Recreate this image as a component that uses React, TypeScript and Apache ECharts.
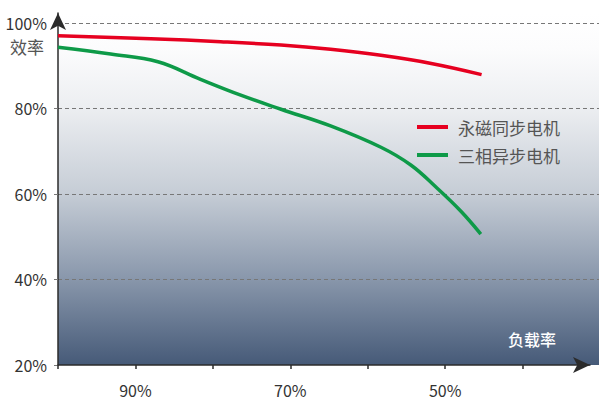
import React, { useEffect, useRef } from "react";
import * as echarts from "echarts";

const seriesNames = ["永磁同步电机", "三相异步电机"];
const pmsmLoad = [100, 88.0, 79.0, 71.2, 64.8, 58.3, 51.8, 45.3];
const pmsmEff = [96.96, 96.3, 95.6, 94.8, 93.8, 92.4, 90.5, 87.9];
const asyncLoad = [100, 93.2, 87.1, 81.6, 76.4, 71.2, 64.8, 58.3, 54.4, 51.2, 48.0, 45.4];
const asyncEff = [94.3, 92.7, 90.9, 86.8, 83.1, 79.8, 75.9, 70.9, 66.7, 61.6, 56.0, 50.6];
const xTickValues = [100, 90, 80, 70, 60, 50, 40];
const xLabelValues = [90, 70, 50];
const yAxisName = "效率";
const xAxisName = "负载率";

const FONT = "'Noto Sans CJK SC', 'Noto Sans', sans-serif";

export default function App() {
  const ref = useRef<HTMLDivElement>(null);
  useEffect(() => {
    if (!ref.current) return;
    const chart = echarts.init(ref.current, undefined, { renderer: "svg" });
    const pair = (xs: number[], ys: number[]) => xs.map((x, i) => [x, ys[i]]);
    chart.setOption({
      animation: false,
      backgroundColor: "#ffffff",
      textStyle: { fontFamily: FONT },
      grid: [
        {
          left: 58,
          right: 0,
          top: 13,
          bottom: 45,
          show: true,
          borderWidth: 0,
          backgroundColor: {
            type: "linear",
            x: 0,
            y: 0,
            x2: 0,
            y2: 1,
            colorStops: [
              { offset: 0, color: "#ffffff" },
              { offset: 0.1, color: "#fcfcfd" },
              { offset: 0.27, color: "#eceef1" },
              { offset: 0.51, color: "#c6cdd6" },
              { offset: 0.75, color: "#8a98ac" },
              { offset: 1, color: "#465a78" },
            ],
          },
        },
        { left: 58, right: 9, top: 13, bottom: 45 },
      ],
      xAxis: [
        { gridIndex: 0, type: "value", min: 0, max: 1, show: false },
        {
          gridIndex: 1,
          type: "value",
          inverse: true,
          min: 31.3,
          max: 100,
          axisLine: {
            show: true,
            symbol: ["none", "arrow"],
            symbolSize: [12, 17],
            lineStyle: { color: "#2b2b2b", width: 1.5 },
          },
          axisTick: {
            show: true,
            customValues: xTickValues,
            length: 4,
            lineStyle: { color: "#2b2b2b", width: 1.5 },
          },
          axisLabel: {
            customValues: xLabelValues,
            formatter: "{value}%",
            color: "#333333",
            fontSize: 16,
            margin: 17,
            fontFamily: FONT,
          },
          splitLine: { show: false },
        },
      ],
      yAxis: [
        {
          gridIndex: 0,
          type: "value",
          min: 20,
          max: 102.3,
          interval: 20,
          axisLine: {
            show: true,
            symbol: ["none", "arrow"],
            symbolSize: [12, 17],
            lineStyle: { color: "#2b2b2b", width: 1.5 },
          },
          axisTick: {
            show: true,
            length: 5,
            lineStyle: { color: "#777777", width: 1, type: [4, 3] },
          },
          axisLabel: {
            formatter: "{value}%",
            color: "#333333",
            fontSize: 16,
            margin: 11,
            showMaxLabel: false,
            fontFamily: FONT,
          },
          splitLine: {
            show: true,
            showMinLine: false,
            showMaxLine: false,
            lineStyle: { color: "#777777", width: 1, type: [4, 3] },
          },
        },
        { gridIndex: 1, type: "value", min: 20, max: 102.3, show: false },
      ],
      legend: {
        orient: "vertical",
        left: 412,
        top: 112,
        itemWidth: 31,
        itemHeight: 4,
        itemGap: 8,
        icon: "rect",
        textStyle: {
          color: "#555555",
          fontSize: 17,
          lineHeight: 20,
          padding: [0, 0, 0, 5],
          fontFamily: FONT,
        },
        data: seriesNames,
      },
      graphic: [
        {
          type: "text",
          left: 10,
          top: 38,
          style: { text: yAxisName, fill: "#555555", fontSize: 17, fontFamily: FONT },
        },
        {
          type: "text",
          left: 508,
          top: 331,
          style: { text: xAxisName, fill: "#ffffff", fontSize: 16, fontWeight: 500, fontFamily: FONT },
        },
      ],
      series: [
        {
          name: seriesNames[0],
          type: "line",
          xAxisIndex: 1,
          yAxisIndex: 1,
          smooth: 0.4,
          showSymbol: false,
          data: pair(pmsmLoad, pmsmEff),
          itemStyle: { color: "#e60020" },
          lineStyle: { color: "#e60020", width: 3.5 },
        },
        {
          name: seriesNames[1],
          type: "line",
          xAxisIndex: 1,
          yAxisIndex: 1,
          smooth: 0.4,
          showSymbol: false,
          data: pair(asyncLoad, asyncEff),
          itemStyle: { color: "#0e9a48" },
          lineStyle: { color: "#0e9a48", width: 3.5 },
        },
      ],
    });
    return () => chart.dispose();
  }, []);
  return (
    <div
      ref={ref}
      style={{ position: "fixed", left: 0, top: 0, width: 599, height: 410 }}
    />
  );
}
